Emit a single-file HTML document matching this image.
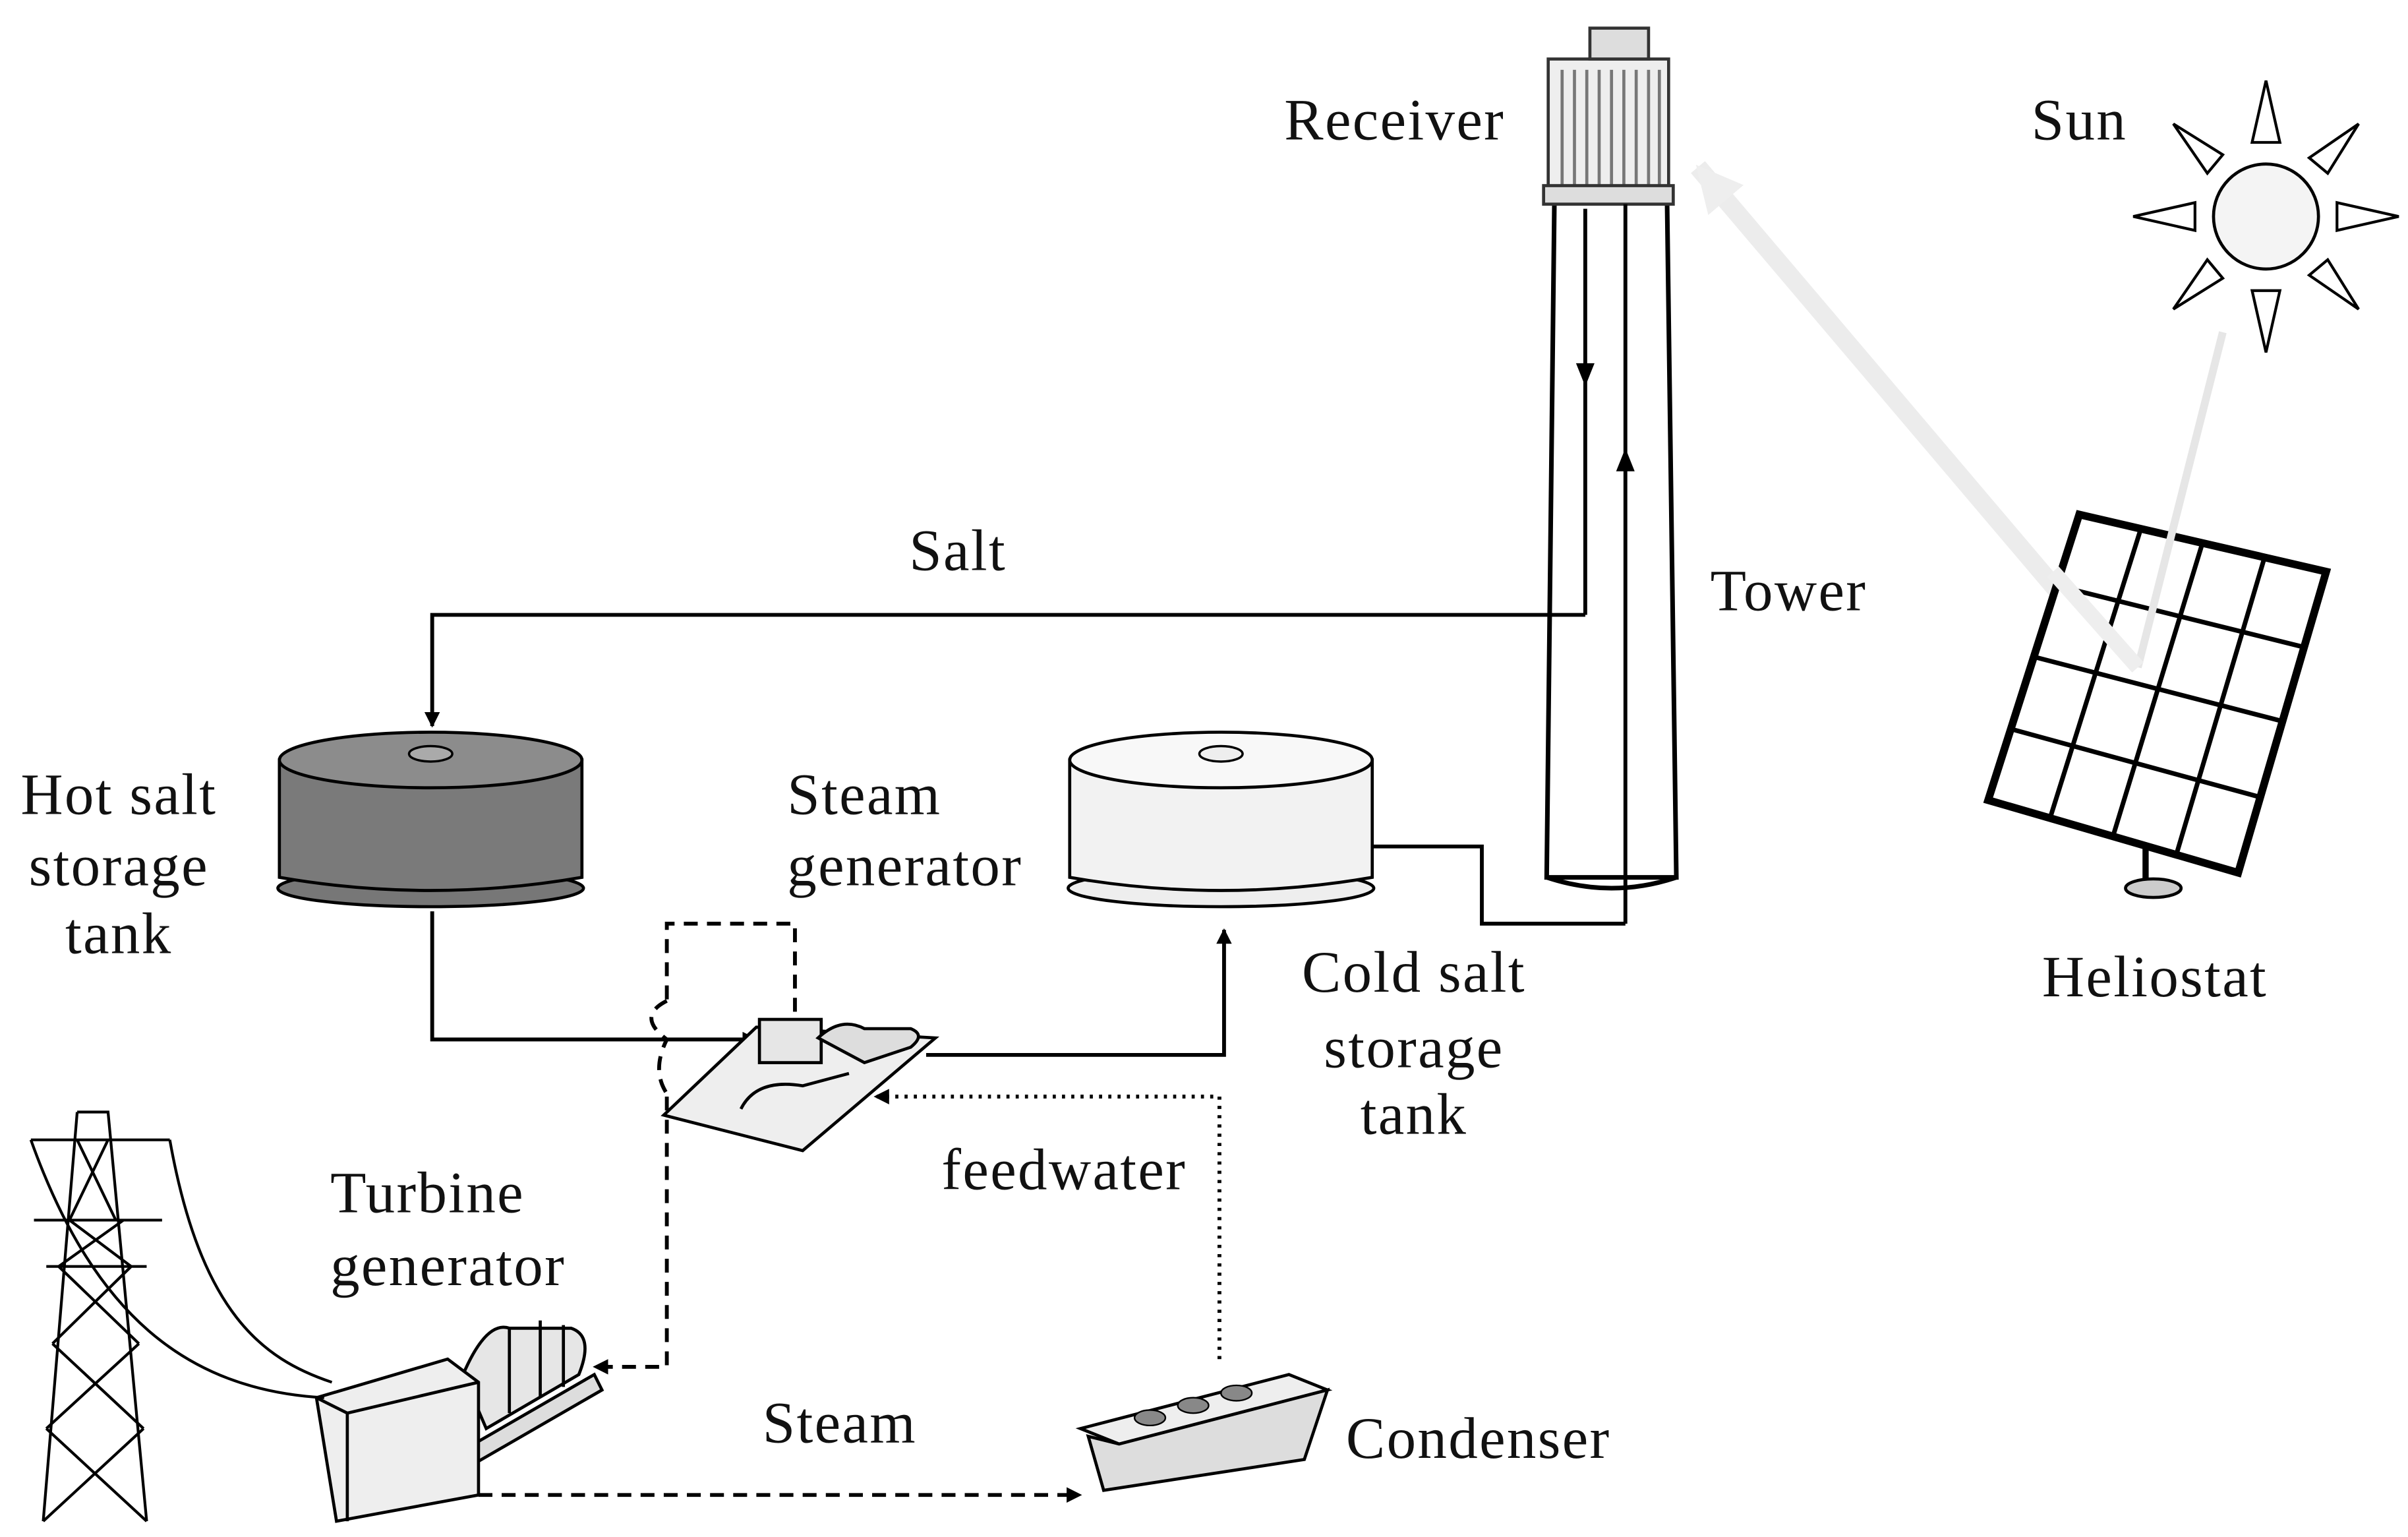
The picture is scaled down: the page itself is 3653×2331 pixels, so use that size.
<!DOCTYPE html>
<html><head><meta charset="utf-8"><style>
html,body{margin:0;padding:0;background:#fff;}
svg{display:block;}
text{font-family:"Liberation Serif",serif;font-size:38px;letter-spacing:1px;fill:#111;}
</style></head><body>
<svg width="3653" height="2331" viewBox="0 0 1560 995" xmlns="http://www.w3.org/2000/svg">
<defs>
<marker id="ar" markerWidth="10" markerHeight="10" refX="9" refY="5" orient="auto" markerUnits="userSpaceOnUse"><path d="M0,0 L10,5 L0,10 z" fill="#000"/></marker>
<marker id="gar" markerWidth="30" markerHeight="30" refX="28" refY="15" orient="auto" markerUnits="userSpaceOnUse"><path d="M0,0 L30,15 L0,30 z" fill="#eee"/></marker>
</defs>
<line x1="1375" y1="432" x2="1100" y2="108" stroke="#ececec" stroke-width="12" marker-end="url(#gar)"/>
<line x1="1440" y1="215" x2="1385" y2="432" stroke="#e6e6e6" stroke-width="5"/>
<path d="M1007,130 L1080,130 L1086,568 L1002,568 Z" fill="#fff" stroke="#000" stroke-width="3"/>
<path d="M1002,568 Q1044,582 1086,568" fill="none" stroke="#000" stroke-width="3"/>
<rect x="1003" y="38" width="78" height="90" fill="#eee" stroke="#333" stroke-width="2"/>
<g stroke="#777" stroke-width="2">
<line x1="1012" y1="45" x2="1012" y2="120"/><line x1="1020" y1="45" x2="1020" y2="120"/><line x1="1028" y1="45" x2="1028" y2="120"/><line x1="1036" y1="45" x2="1036" y2="120"/><line x1="1044" y1="45" x2="1044" y2="120"/><line x1="1052" y1="45" x2="1052" y2="120"/><line x1="1060" y1="45" x2="1060" y2="120"/><line x1="1068" y1="45" x2="1068" y2="120"/><line x1="1075" y1="45" x2="1075" y2="120"/>
</g>
<rect x="1000" y="120" width="84" height="12" fill="#ddd" stroke="#333" stroke-width="2"/>
<rect x="1030" y="18" width="38" height="20" fill="#ddd" stroke="#333" stroke-width="2"/>
<line x1="1027" y1="135" x2="1027" y2="398" stroke="#000" stroke-width="2.5"/>
<path d="M1021,235 L1033,235 L1027,250 z" fill="#000"/>
<line x1="1053" y1="598" x2="1053" y2="132" stroke="#000" stroke-width="2.5"/>
<path d="M1047,305 L1059,305 L1053,290 z" fill="#000"/>
<polyline points="1027,398 280,398 280,470" fill="none" stroke="#000" stroke-width="2.5" marker-end="url(#ar)"/>
<ellipse cx="279" cy="575" rx="99" ry="12" fill="#777" stroke="#000" stroke-width="2"/>
<path d="M181,492 L181,568 Q279,585 377,568 L377,492 Z" fill="#7a7a7a" stroke="#000" stroke-width="2"/>
<ellipse cx="279" cy="492" rx="98" ry="18" fill="#8c8c8c" stroke="#000" stroke-width="2"/>
<ellipse cx="279" cy="488" rx="14" ry="5" fill="#aaa" stroke="#000" stroke-width="1.5"/>
<ellipse cx="791" cy="575" rx="99" ry="12" fill="#eee" stroke="#000" stroke-width="2"/>
<path d="M693,492 L693,568 Q791,585 889,568 L889,492 Z" fill="#f2f2f2" stroke="#000" stroke-width="2"/>
<ellipse cx="791" cy="492" rx="98" ry="18" fill="#f8f8f8" stroke="#000" stroke-width="2"/>
<ellipse cx="791" cy="488" rx="14" ry="5" fill="#eee" stroke="#000" stroke-width="1.5"/>
<polyline points="889,548 960,548 960,598 1053,598" fill="none" stroke="#000" stroke-width="2.5"/>
<polyline points="280,590 280,673 490,673" fill="none" stroke="#000" stroke-width="2.5" marker-end="url(#ar)"/>
<polyline points="600,683 793,683 793,602" fill="none" stroke="#000" stroke-width="2.5" marker-end="url(#ar)"/>
<path d="M430,722 L490,665 L606,672 L520,745 Z" fill="#eee" stroke="#000" stroke-width="2"/>
<rect x="492" y="660" width="40" height="28" fill="#e6e6e6" stroke="#000" stroke-width="2"/>
<path d="M530,672 q15,-14 30,-6 l30,0 q10,4 0,12 l-30,10 z" fill="#ddd" stroke="#000" stroke-width="2"/>
<path d="M480,718 q10,-20 40,-15 l30,-8" fill="none" stroke="#000" stroke-width="2"/>
<polyline points="515,655 515,598 432,598 432,648" fill="none" stroke="#000" stroke-width="2.5" stroke-dasharray="9,6"/>
<path d="M432,648 q-20,10 0,25 q-10,20 0,35" fill="none" stroke="#000" stroke-width="2.5" stroke-dasharray="9,6"/>
<polyline points="432,710 432,885 385,885" fill="none" stroke="#000" stroke-width="2.5" stroke-dasharray="9,6" marker-end="url(#ar)"/>
<polyline points="790,880 790,710 567,710" fill="none" stroke="#000" stroke-width="2.5" stroke-dasharray="2,4" marker-end="url(#ar)"/>
<polyline points="310,968 700,968" fill="none" stroke="#000" stroke-width="2.5" stroke-dasharray="9,6" marker-end="url(#ar)"/>
<path d="M260,975 L390,900 L385,890 L255,965 Z" fill="#ddd" stroke="#000" stroke-width="2"/>
<path d="M300,890 q15,-35 30,-30 l40,0 q15,5 5,30 l-60,35 z" fill="#e6e6e6" stroke="#000" stroke-width="2"/>
<path d="M330,860 l0,55 M350,855 l0,50 M365,858 l0,40" stroke="#000" stroke-width="2"/>
<path d="M205,905 L290,880 L310,895 L310,968 L218,985 Z" fill="#eee" stroke="#000" stroke-width="2"/>
<line x1="205" y1="905" x2="225" y2="915" stroke="#000" stroke-width="2"/>
<line x1="225" y1="915" x2="310" y2="895" stroke="#000" stroke-width="2"/>
<line x1="225" y1="915" x2="225" y2="985" stroke="#000" stroke-width="2"/>
<path d="M700,925 L835,890 L860,900 L725,935 Z" fill="#eee" stroke="#000" stroke-width="2"/>
<path d="M705,930 L725,935 L860,900 L845,945 L715,965 Z" fill="#ddd" stroke="#000" stroke-width="2"/>
<ellipse cx="745" cy="918" rx="10" ry="5" fill="#888" stroke="#000"/>
<ellipse cx="773" cy="910" rx="10" ry="5" fill="#888" stroke="#000"/>
<ellipse cx="801" cy="902" rx="10" ry="5" fill="#888" stroke="#000"/>
<g fill="none" stroke="#000" stroke-width="1.8">
<path d="M50,720 L70,720 L95,985 M50,720 L28,985"/>
<path d="M20,738 L110,738 M22,790 L105,790 M30,820 L95,820"/>
<path d="M50,738 L75,790 M70,738 L45,790 M45,790 L85,820 M80,790 L38,820 M38,820 L90,870 M85,820 L34,870 M34,870 L93,925 M90,870 L30,925 M30,925 L95,985 M93,925 L28,985"/>
<path d="M20,738 C60,850 120,900 210,905"/>
<path d="M110,738 C130,850 170,880 215,895"/>
</g>
<circle cx="1468" cy="140" r="34" fill="#f4f4f4" stroke="#000" stroke-width="2"/>
<g fill="#fff" stroke="#000" stroke-width="1.8">
<path d="M1468,52 L1459,92 L1477,92 Z"/>
<path d="M1468,228 L1459,188 L1477,188 Z"/>
<path d="M1382,140 L1422,131 L1422,149 Z"/>
<path d="M1554,140 L1514,131 L1514,149 Z"/>
<path d="M1408,80 L1430,112 L1440,100 Z"/>
<path d="M1528,80 L1496,102 L1508,112 Z"/>
<path d="M1408,200 L1430,168 L1440,180 Z"/>
<path d="M1528,200 L1496,178 L1508,168 Z"/>
</g>
<path d="M1390,540 L1390,572" stroke="#000" stroke-width="4"/>
<ellipse cx="1395" cy="575" rx="18" ry="6" fill="#ccc" stroke="#000" stroke-width="2"/>
<path d="M1347,333 L1507,370 L1450,565 L1288,518 Z" fill="#fff" stroke="#000" stroke-width="5"/>
<g stroke="#000" stroke-width="3">
<line x1="1387" y1="342" x2="1328" y2="530"/>
<line x1="1427" y1="351" x2="1369" y2="541"/>
<line x1="1467" y1="361" x2="1410" y2="553"/>
<line x1="1332" y1="379" x2="1493" y2="419"/>
<line x1="1317" y1="425" x2="1479" y2="467"/>
<line x1="1303" y1="472" x2="1464" y2="516"/>
</g>
<line x1="1440" y1="215" x2="1385" y2="432" stroke="#e6e6e6" stroke-width="5"/>
<line x1="1385" y1="432" x2="1330" y2="370" stroke="#eee" stroke-width="10"/>
<text x="832" y="90">Receiver</text>
<text x="1316" y="90">Sun</text>
<text x="589" y="369">Salt</text>
<text x="1108" y="395">Tower</text>
<text x="77" y="527" text-anchor="middle">Hot salt</text>
<text x="77" y="573" text-anchor="middle">storage</text>
<text x="77" y="617" text-anchor="middle">tank</text>
<text x="510" y="527">Steam</text>
<text x="510" y="573">generator</text>
<text x="916" y="642" text-anchor="middle">Cold salt</text>
<text x="916" y="691" text-anchor="middle">storage</text>
<text x="916" y="734" text-anchor="middle">tank</text>
<text x="1396" y="645" text-anchor="middle">Heliostat</text>
<text x="214" y="785">Turbine</text>
<text x="214" y="832">generator</text>
<text x="610" y="770">feedwater</text>
<text x="494" y="934">Steam</text>
<text x="872" y="944">Condenser</text>
</svg>
</body></html>
